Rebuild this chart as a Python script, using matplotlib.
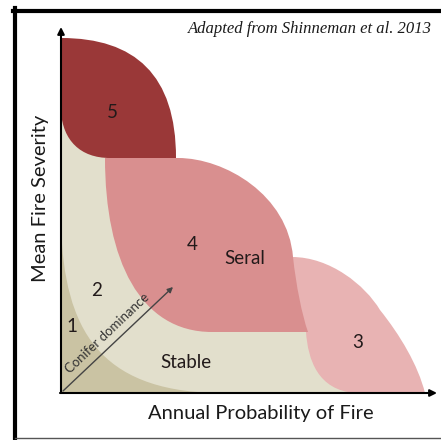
import matplotlib
matplotlib.use("Agg")
import matplotlib.pyplot as plt
from matplotlib.path import Path
from matplotlib.patches import PathPatch, Polygon

# diagram coordinates are in pixels of the 441x440 canvas (y grows downward)
origin = (61, 393)
y_tip = (61, 27)
x_tip = (437, 393)

# outline of each zone: start point, then cubic bezier triples / straight points
zone5 = [(61, 38), ("C", (135, 38), (176, 75), (176, 158)), (110, 158),
         ("C", (80, 158), (63, 140), (61, 112))]
zone4 = [(105, 158), (178, 158), ("C", (225, 158), (288, 195), (293, 257)),
         ("C", (296, 285), (302, 315), (308, 332)), (212, 332),
         ("C", (140, 332), (105, 260), (105, 158))]
zone3 = [(285, 257), (292, 257), ("C", (330, 257), (365, 285), (380, 310)),
         ("C", (400, 335), (418, 365), (425, 393)), (355, 393),
         ("C", (318, 390), (308, 360), (306, 332)), (285, 300)]
zone1 = [(61, 393), (61, 225), ("C", (64, 330), (100, 390), (215, 393))]
stable = [(61, 393), (61, 60), (150, 90), (170, 158), (250, 220),
          (290, 260), (390, 340), (420, 393)]

colors = {"stable": "#e2dfcc", "1": "#cac3a3", "3": "#e8b3b3",
          "4": "#d98f8f", "5": "#9a3838"}

labels = [("5", 112, 113), ("4", 192, 245), ("Seral", 245, 259), ("2", 97, 290),
          ("1", 72, 326), ("Stable", 186, 363), ("3", 358, 342)]

arrow_start = (63, 391)
arrow_end = (173, 287)


def make_path(spec):
    verts, codes = [spec[0]], [Path.MOVETO]
    for item in spec[1:]:
        if item[0] == "C":
            verts += list(item[1:])
            codes += [Path.CURVE4] * 3
        else:
            verts.append(item)
            codes.append(Path.LINETO)
    verts.append(spec[0])
    codes.append(Path.CLOSEPOLY)
    return Path(verts, codes)


fig = plt.figure(figsize=(4.41, 4.40), dpi=100)
ax = fig.add_axes([0, 0, 1, 1])
ax.set_xlim(0, 441)
ax.set_ylim(440, 0)
ax.axis("off")

ax.add_patch(Polygon(stable, closed=True, fc=colors["stable"], ec="none"))
ax.add_patch(PathPatch(make_path(zone1), fc=colors["1"], ec="none"))
ax.add_patch(PathPatch(make_path(zone3), fc=colors["3"], ec="none"))
ax.add_patch(PathPatch(make_path(zone4), fc=colors["4"], ec="none"))
ax.add_patch(PathPatch(make_path(zone5), fc=colors["5"], ec="none"))

# frame
ax.plot([15, 15], [8, 440], color="black", lw=3)
ax.plot([13, 441], [11, 11], color="black", lw=3)
ax.plot([15, 441], [438, 438], color="#555555", lw=1)

# axes arrows
ax.annotate("", xy=y_tip, xytext=origin,
            arrowprops=dict(arrowstyle="-|>", lw=1.5, color="black", mutation_scale=10,
                            shrinkA=0, shrinkB=0))
ax.annotate("", xy=x_tip, xytext=(origin[0] - 1, origin[1]),
            arrowprops=dict(arrowstyle="-|>", lw=1.5, color="black", mutation_scale=10,
                            shrinkA=0, shrinkB=0))

# conifer dominance arrow
ax.annotate("", xy=arrow_end, xytext=arrow_start,
            arrowprops=dict(arrowstyle="-|>", lw=1, color="#444444", mutation_scale=8,
                            shrinkA=0, shrinkB=0))
ax.text(107, 333, "Conifer dominance", rotation=43.4, ha="center", va="center",
        rotation_mode="anchor", fontsize=9.5, family="Lato", color="#333333")

for txt, x, y in labels:
    ax.text(x, y, txt, ha="center", va="center", fontsize=13.5, family="Lato",
            color="#221a1a")

ax.text(41, 198, "Mean Fire Severity", rotation=90, ha="center", va="center",
        fontsize=14.5, family="Lato", color="#1a1a1a")
ax.text(261, 413, "Annual Probability of Fire", ha="center", va="center",
        fontsize=14.5, family="Lato", color="#1a1a1a")
ax.text(432, 29, "Adapted from Shinneman et al. 2013", ha="right", va="center",
        fontsize=12, family="Liberation Serif", style="italic", color="#1a1a1a")

fig.savefig("out.png", dpi=100)
